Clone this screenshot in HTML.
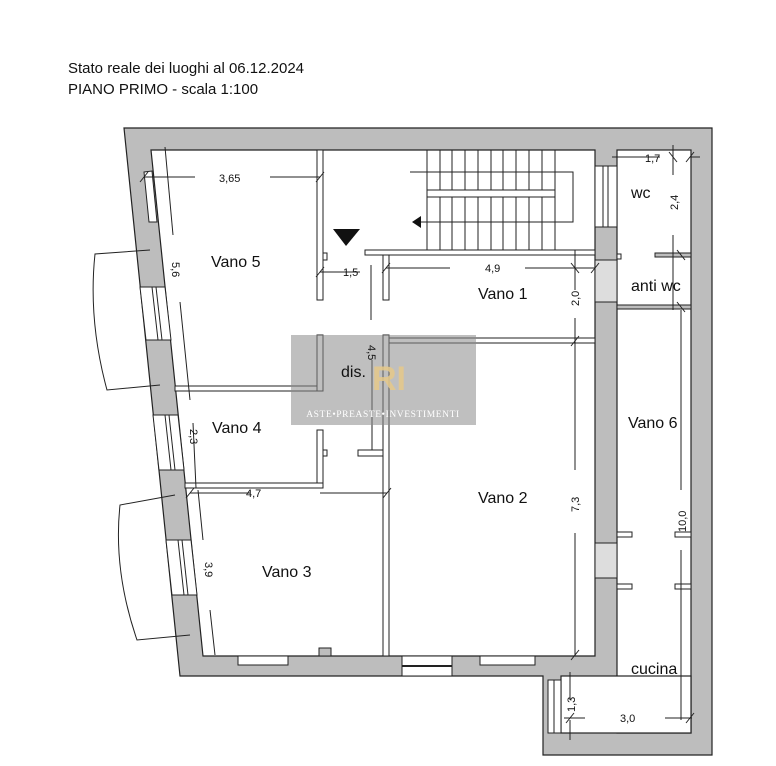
<!DOCTYPE html>
<html><head><meta charset="utf-8"><style>
html,body{margin:0;padding:0;background:#fff;}
svg{display:block;font-family:"Liberation Sans",sans-serif;}
</style></head><body>
<svg width="776" height="766" viewBox="0 0 776 766" xmlns="http://www.w3.org/2000/svg">
<rect width="776" height="766" fill="#fff"/>
<text x="68" y="73" font-size="15" fill="#111">Stato reale dei luoghi al 06.12.2024</text>
<text x="68" y="94" font-size="15" fill="#111">PIANO PRIMO - scala 1:100</text>

<g stroke="#222" stroke-width="1.2">
<path d="M124,128 L712,128 L712,755 L543,755 L543,676 L180,676 Z" fill="#bdbdbd"/>
<path d="M151,150 L595,150 L595,656 L203,656 Z" fill="#fff"/>
<rect x="617" y="150" width="74" height="583" fill="#fff"/>
<rect x="561" y="676" width="130" height="57" fill="#fff"/>
</g>
<!-- niche top-left -->
<polygon points="144,172 152,171 157,222 149,222" fill="#fff" stroke="#222" stroke-width="1"/>
<!-- windows in left wall -->
<g fill="#fff" stroke="#222" stroke-width="1">
<polygon points="140,287 165,287 171,340 146,340"/>
<line x1="152" y1="287" x2="158" y2="340"/><line x1="156" y1="287" x2="162" y2="340"/>
<polygon points="153,415 178,415 184,470 159,470"/>
<line x1="165" y1="415" x2="171" y2="470"/><line x1="169" y1="415" x2="175" y2="470"/>
<polygon points="166,540 191,540 197,595 172,595"/>
<line x1="178" y1="540" x2="184" y2="595"/><line x1="182" y1="540" x2="188" y2="595"/>
</g>
<!-- balconies -->
<g fill="none" stroke="#222" stroke-width="1">
<path d="M150,250 L95,254 Q88,320 107,390 L160,385"/>
<path d="M175,495 L120,505 Q113,570 137,640 L190,635"/>
</g>
<!-- bottom wall window -->
<rect x="402" y="656" width="50" height="20" fill="#fff" stroke="#222"/>
<line x1="402" y1="666" x2="452" y2="666" stroke="#222" stroke-width="2"/>
<g fill="#fff" stroke="#222" stroke-width="1">
<rect x="238" y="656" width="50" height="9"/>
<rect x="480" y="656" width="55" height="9"/>
</g>
<rect x="319" y="648" width="12" height="8" fill="#bdbdbd" stroke="#222"/>
<!-- wall x595-617 openings -->
<rect x="595" y="166" width="22" height="61" fill="#fff" stroke="#222"/>
<line x1="603" y1="166" x2="603" y2="227" stroke="#222"/>
<line x1="608" y1="166" x2="608" y2="227" stroke="#222"/>
<rect x="595" y="260" width="22" height="42" fill="#ddd" stroke="#222"/>
<rect x="595" y="543" width="22" height="35" fill="#ddd" stroke="#222"/>
<rect x="548" y="680" width="13" height="53" fill="#fff" stroke="#222"/>
<line x1="554" y1="680" x2="554" y2="733" stroke="#222"/>

<!-- interior walls -->
<g fill="#fff" stroke="#222" stroke-width="1">
<rect x="317" y="150" width="6" height="150"/>
<rect x="323" y="253" width="4" height="7"/>
<rect x="175" y="386" width="148" height="5"/>
<rect x="317" y="335" width="6" height="56"/>
<rect x="317" y="430" width="6" height="58"/>
<rect x="185" y="483" width="138" height="5"/>
<rect x="323" y="450" width="4" height="6"/>
<rect x="383" y="250" width="6" height="50"/>
<rect x="365" y="250" width="230" height="5"/>
<rect x="383" y="335" width="6" height="321"/>
<rect x="389" y="338" width="206" height="5"/>
<rect x="358" y="450" width="25" height="6"/>
<rect x="655" y="253" width="36" height="4" fill="#bdbdbd"/>
<rect x="617" y="305" width="74" height="4" fill="#bdbdbd"/>
<rect x="617" y="254" width="4" height="5"/>
<rect x="617" y="532" width="15" height="5"/>
<rect x="617" y="584" width="15" height="5"/>
<rect x="675" y="532" width="16" height="5"/>
<rect x="675" y="584" width="16" height="5"/>
</g>

<!-- stairs -->
<g stroke="#222" stroke-width="1" fill="none">
<path d="M410,172 L573,172 L573,222 L420,222"/>
<rect x="427" y="190" width="128" height="7" fill="#fff"/>
<line x1="427" y1="150" x2="427" y2="190"/><line x1="440" y1="150" x2="440" y2="190"/><line x1="452" y1="150" x2="452" y2="190"/><line x1="465" y1="150" x2="465" y2="190"/><line x1="478" y1="150" x2="478" y2="190"/><line x1="491" y1="150" x2="491" y2="190"/><line x1="503" y1="150" x2="503" y2="190"/><line x1="516" y1="150" x2="516" y2="190"/><line x1="529" y1="150" x2="529" y2="190"/><line x1="542" y1="150" x2="542" y2="190"/><line x1="555" y1="150" x2="555" y2="190"/>
<line x1="427" y1="197" x2="427" y2="250"/><line x1="440" y1="197" x2="440" y2="250"/><line x1="452" y1="197" x2="452" y2="250"/><line x1="465" y1="197" x2="465" y2="250"/><line x1="478" y1="197" x2="478" y2="250"/><line x1="491" y1="197" x2="491" y2="250"/><line x1="503" y1="197" x2="503" y2="250"/><line x1="516" y1="197" x2="516" y2="250"/><line x1="529" y1="197" x2="529" y2="250"/><line x1="542" y1="197" x2="542" y2="250"/><line x1="555" y1="197" x2="555" y2="250"/>
</g>
<polygon points="412,222 421,216 421,228" fill="#111"/>
<polygon points="333,229 360,229 346,246" fill="#111"/>

<!-- dimension lines -->
<g stroke="#222" stroke-width="1" fill="none">
<line x1="144" y1="177" x2="195" y2="177"/><line x1="270" y1="177" x2="320" y2="177"/>
<line x1="165" y1="147" x2="173" y2="235"/><line x1="180" y1="302" x2="190" y2="400"/>
<line x1="320" y1="272" x2="360" y2="272"/><line x1="371" y1="265" x2="371" y2="320"/>
<line x1="386" y1="268" x2="450" y2="268"/><line x1="525" y1="268" x2="595" y2="268"/>
<line x1="575" y1="250" x2="575" y2="290"/><line x1="575" y1="318" x2="575" y2="343"/>
<line x1="372" y1="360" x2="372" y2="450"/>
<line x1="575" y1="338" x2="575" y2="470"/><line x1="575" y1="533" x2="575" y2="656"/>
<line x1="193" y1="423" x2="196" y2="488"/>
<line x1="190" y1="493" x2="250" y2="493"/><line x1="320" y1="493" x2="387" y2="493"/>
<line x1="198" y1="490" x2="203" y2="540"/><line x1="210" y1="610" x2="215" y2="655"/>
<line x1="612" y1="157" x2="660" y2="157"/><line x1="690" y1="157" x2="700" y2="157"/>
<line x1="673" y1="145" x2="673" y2="175"/><line x1="673" y1="235" x2="673" y2="310"/>
<line x1="681" y1="310" x2="681" y2="490"/><line x1="681" y1="550" x2="681" y2="720"/>
<line x1="570" y1="672" x2="570" y2="700"/><line x1="570" y1="720" x2="570" y2="740"/>
<line x1="564" y1="718" x2="585" y2="718"/><line x1="665" y1="718" x2="692" y2="718"/>
</g>
<g stroke="#222" stroke-width="1">
<line x1="140" y1="182" x2="148" y2="172"/><line x1="316" y1="182" x2="324" y2="172"/>
<line x1="316" y1="277" x2="324" y2="267"/><line x1="382" y1="273" x2="390" y2="263"/>
<line x1="571" y1="263" x2="579" y2="273"/><line x1="591" y1="273" x2="599" y2="263"/>
<line x1="571" y1="346" x2="579" y2="336"/><line x1="186" y1="498" x2="194" y2="488"/>
<line x1="383" y1="498" x2="391" y2="488"/><line x1="571" y1="660" x2="579" y2="650"/>
<line x1="669" y1="152" x2="677" y2="162"/><line x1="686" y1="162" x2="694" y2="152"/>
<line x1="677" y1="250" x2="685" y2="260"/><line x1="677" y1="302" x2="685" y2="312"/>
<line x1="566" y1="723" x2="574" y2="713"/><line x1="686" y1="723" x2="694" y2="713"/>
</g>

<!-- watermark -->
<rect x="291" y="335" width="185" height="90" fill="#8a8a8a" opacity="0.55"/>
<text x="372" y="390" font-size="34" fill="#e6c98a" font-weight="bold" opacity="0.85">RI</text>
<text x="383" y="417" font-size="9.5" fill="#fff" text-anchor="middle" font-family="Liberation Serif,serif" letter-spacing="0.6">ASTE•PREASTE•INVESTIMENTI</text>

<g font-size="16" fill="#111">
<text x="211" y="267">Vano 5</text>
<text x="478" y="299">Vano 1</text>
<text x="341" y="377">dis.</text>
<text x="212" y="433">Vano 4</text>
<text x="478" y="503">Vano 2</text>
<text x="262" y="577">Vano 3</text>
<text x="628" y="428">Vano 6</text>
<text x="631" y="198">wc</text>
<text x="631" y="291">anti wc</text>
<text x="631" y="674">cucina</text>
</g>
<g font-size="11" fill="#111">
<text x="219" y="182">3,65</text>
<text x="343" y="276">1,5</text>
<text x="485" y="272">4,9</text>
<text x="246" y="497">4,7</text>
<text x="645" y="162">1,7</text>
<text x="620" y="722">3,0</text>
<text transform="translate(172,262) rotate(90)">5,6</text>
<text transform="translate(190,429) rotate(90)">2,3</text>
<text transform="translate(205,562) rotate(90)">3,9</text>
<text transform="translate(368,345) rotate(90)">4,5</text>
<text transform="translate(579,306) rotate(-90)">2,0</text>
<text transform="translate(579,512) rotate(-90)">7,3</text>
<text transform="translate(678,210) rotate(-90)">2,4</text>
<text transform="translate(686,532) rotate(-90)">10,0</text>
<text transform="translate(575,712) rotate(-90)">1,3</text>
</g>
</svg>
</body></html>
